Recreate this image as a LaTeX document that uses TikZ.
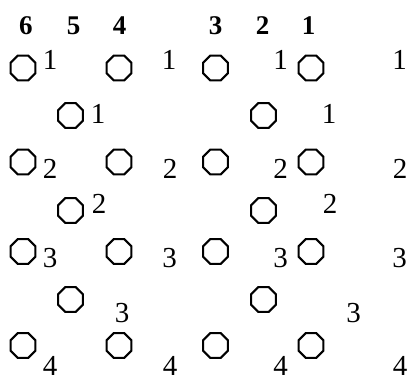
\documentclass[tikz,border=0pt]{standalone}
\usepackage{fontspec}
\setmainfont{Liberation Serif}
\usetikzlibrary{shapes.geometric}
\begin{document}
\begin{tikzpicture}[x=1pt,y=-1pt,
  oct/.style={draw,regular polygon,regular polygon sides=8,minimum size=27pt,inner sep=0pt,line width=2pt},
  lab/.style={anchor=base,inner sep=0pt,font=\fontsize{29}{32}\selectfont},
  head/.style={anchor=base,inner sep=0pt,font=\fontsize{27}{30}\selectfont\bfseries}]
\useasboundingbox (0,0) rectangle (407,376);
% headers
\node[head] (h6) at (26,34) {6};
\node[head] (h5) at (73.5,34) {5};
\node[head] (h4) at (119.5,34) {4};
\node[head] (h3) at (215.5,34) {3};
\node[head] (h2) at (262.5,34) {2};
\node[head] (h1) at (308.5,34) {1};
% row 1
\node[oct] (a1) at (23,68) {};
\node[oct] (b1) at (119,68) {};
\node[oct] (c1) at (215.5,68) {};
\node[oct] (d1) at (311,68) {};
\node[lab] (la1) at (50,69) {1};
\node[lab] (lb1) at (169,69) {1};
\node[lab] (lc1) at (280.5,69) {1};
\node[lab] (ld1) at (399.5,69) {1};
% row 1.5
\node[oct] (e1) at (70.5,115.5) {};
\node[oct] (f1) at (263.5,115.5) {};
\node[lab] (le1) at (98,123) {1};
\node[lab] (lf1) at (329,123) {1};
% row 2
\node[oct] (a2) at (23,162) {};
\node[oct] (b2) at (119,162) {};
\node[oct] (c2) at (215.5,162) {};
\node[oct] (d2) at (311,162) {};
\node[lab] (la2) at (50,178) {2};
\node[lab] (lb2) at (170,178) {2};
\node[lab] (lc2) at (280.5,178) {2};
\node[lab] (ld2) at (400,178) {2};
% row 2.5
\node[oct] (e2) at (70.5,210.5) {};
\node[oct] (f2) at (263.5,210.5) {};
\node[lab] (le2) at (99,213) {2};
\node[lab] (lf2) at (330,213) {2};
% row 3
\node[oct] (a3) at (23,251.5) {};
\node[oct] (b3) at (119,251.5) {};
\node[oct] (c3) at (215.5,251.5) {};
\node[oct] (d3) at (311,251.5) {};
\node[lab] (la3) at (50,267) {3};
\node[lab] (lb3) at (169.5,267) {3};
\node[lab] (lc3) at (280.5,267) {3};
\node[lab] (ld3) at (399.5,267) {3};
% row 3.5
\node[oct] (e3) at (70.5,299.5) {};
\node[oct] (f3) at (263.5,299.5) {};
\node[lab] (le3) at (122,322) {3};
\node[lab] (lf3) at (353.5,322) {3};
% row 4
\node[oct] (a4) at (23,345.5) {};
\node[oct] (b4) at (119,345.5) {};
\node[oct] (c4) at (215.5,345.5) {};
\node[oct] (d4) at (311,345.5) {};
\node[lab] (la4) at (50,375.5) {4};
\node[lab] (lb4) at (170,375.5) {4};
\node[lab] (lc4) at (280.5,375.5) {4};
\node[lab] (ld4) at (400,375.5) {4};
\end{tikzpicture}
\end{document}
